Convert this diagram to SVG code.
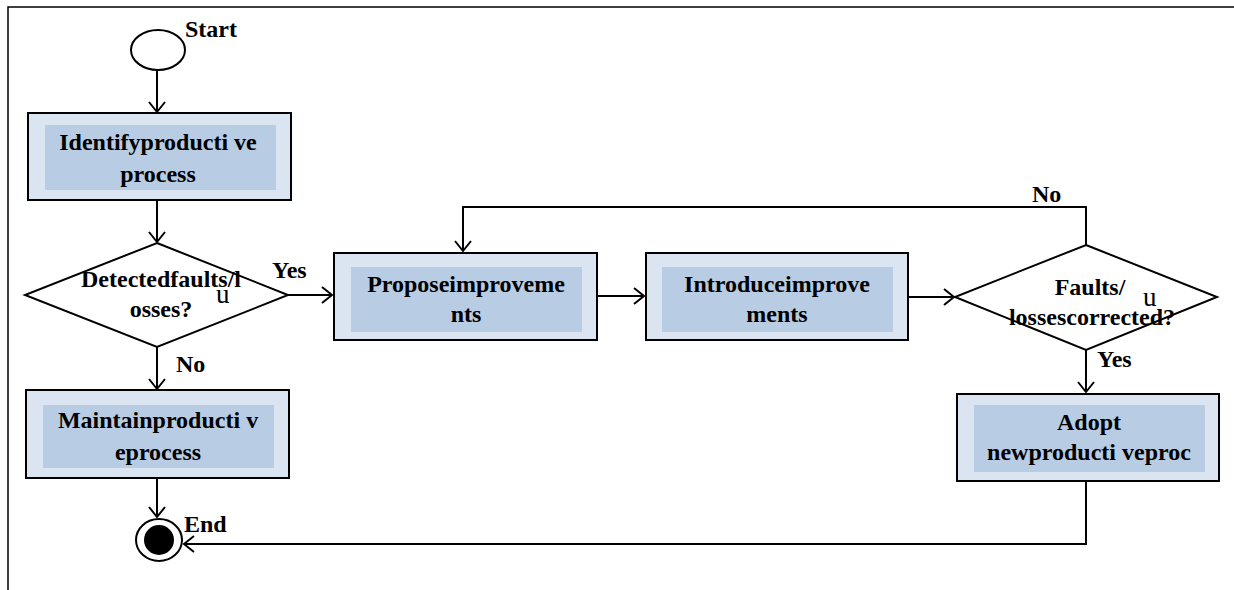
<svg xmlns="http://www.w3.org/2000/svg" width="1234" height="590" viewBox="0 0 1234 590">
<style>
.box{fill:#dbe5f1;stroke:#000;stroke-width:2}
.inner{fill:#b8cce4;stroke:none}
.shape{fill:#fff;stroke:#000;stroke-width:2}
.t{font-family:"Liberation Serif","Times New Roman",serif;font-weight:bold;font-size:24px;fill:#000;text-anchor:middle}
.lbl{font-family:"Liberation Serif","Times New Roman",serif;font-weight:bold;font-size:24px;fill:#000}
.u{font-family:"Liberation Serif","Times New Roman",serif;font-size:27px;fill:#000}
.c{fill:none;stroke:#000;stroke-width:2}
.frame{fill:none;stroke:#000;stroke-width:1.5}
</style>
<defs>
<marker id="arr" markerUnits="userSpaceOnUse" markerWidth="14" markerHeight="18" refX="11" refY="9" orient="auto">
<path d="M1,1 L11,9 L1,17" fill="none" stroke="#000" stroke-width="2"/>
</marker>
</defs>
<g id="frame"><path class="frame" d="M8,590 L8,7 L1234,7"/></g>
<g id="start">
<ellipse class="shape" cx="158" cy="50" rx="27" ry="20"/>
<text class="lbl" x="185" y="37">Start</text>
</g>
<g id="identify">
<rect class="box" x="28" y="113" width="263" height="87"/>
<rect class="inner" x="45" y="125" width="231" height="65"/>
<text class="t" x="158" y="150">Identifyproducti ve</text>
<text class="t" x="158" y="182">process</text>
</g>
<g id="detected">
<polygon class="shape" points="157,243 288,295 157,347 25,295"/>
<text class="t" x="161" y="287">Detectedfaults/l</text>
<text class="t" x="161" y="317">osses?</text>
<text class="u" x="216" y="303">u</text>
</g>
<g id="maintain">
<rect class="box" x="26" y="390" width="263" height="88"/>
<rect class="inner" x="43" y="405" width="231" height="63"/>
<text class="t" x="158" y="428">Maintainproducti v</text>
<text class="t" x="158" y="460">eprocess</text>
</g>
<g id="end">
<ellipse class="shape" cx="159" cy="540" rx="23" ry="21"/>
<circle cx="159" cy="540" r="15" fill="#000"/>
<text class="lbl" x="184" y="532">End</text>
</g>
<g id="propose">
<rect class="box" x="334" y="253" width="263" height="87"/>
<rect class="inner" x="351" y="267" width="231" height="65"/>
<text class="t" x="466" y="292">Proposeimproveme</text>
<text class="t" x="466" y="322">nts</text>
</g>
<g id="introduce">
<rect class="box" x="646" y="253" width="262" height="87"/>
<rect class="inner" x="662" y="267" width="231" height="65"/>
<text class="t" x="777" y="292">Introduceimprove</text>
<text class="t" x="777" y="322">ments</text>
</g>
<g id="faults">
<polygon class="shape" points="1086,245 1217,297 1086,350 955,297"/>
<text class="t" x="1090" y="295">Faults/</text>
<text class="t" x="1092" y="325">lossescorrected?</text>
<text class="u" x="1143" y="306">u</text>
</g>
<g id="adopt">
<rect class="box" x="957" y="394" width="262" height="87"/>
<rect class="inner" x="974" y="405" width="231" height="67"/>
<text class="t" x="1089" y="430">Adopt</text>
<text class="t" x="1089" y="460">newproducti veproc</text>
</g>
<g id="connectors">
<path class="c" d="M157,70 L157,112" marker-end="url(#arr)"/>
<path class="c" d="M157,200 L157,242" marker-end="url(#arr)"/>
<path class="c" d="M288,295 L332,295" marker-end="url(#arr)"/>
<path class="c" d="M157,347 L157,389" marker-end="url(#arr)"/>
<path class="c" d="M157,478 L157,517" marker-end="url(#arr)"/>
<path class="c" d="M597,296 L644,296" marker-end="url(#arr)"/>
<path class="c" d="M908,297 L954,297" marker-end="url(#arr)"/>
<path class="c" d="M1086,245 L1086,207 L463,207 L463,251" marker-end="url(#arr)"/>
<path class="c" d="M1086,350 L1086,392" marker-end="url(#arr)"/>
<path class="c" d="M1086,481 L1086,544 L184,544" marker-end="url(#arr)"/>
<text class="lbl" x="272" y="278">Yes</text>
<text class="lbl" x="176" y="372">No</text>
<text class="lbl" x="1032" y="202">No</text>
<text class="lbl" x="1097" y="367">Yes</text>
</g>
</svg>
